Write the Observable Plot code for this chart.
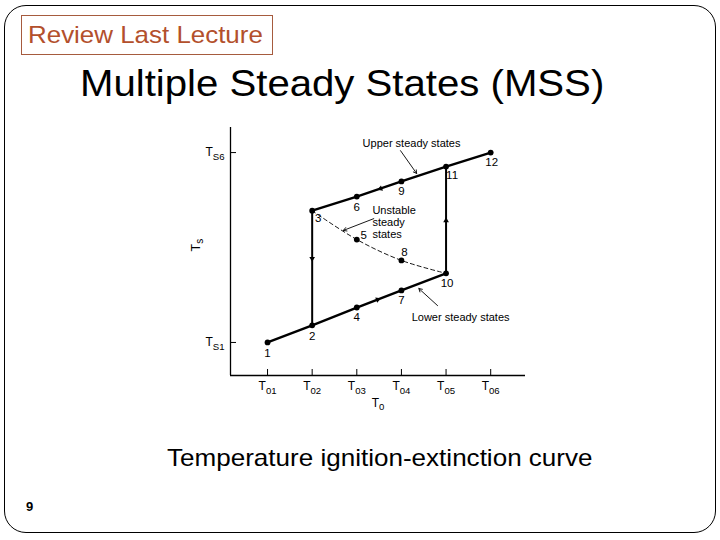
<!DOCTYPE html>
<html><head><meta charset="utf-8">
<script src="https://cdn.jsdelivr.net/npm/d3@7"></script>
<script src="https://cdn.jsdelivr.net/npm/@observablehq/plot@0.6"></script>
<style>
body{margin:0;background:#fff;}
#slide{position:relative;width:720px;height:540px;overflow:hidden;font-family:"Liberation Sans",Arial,sans-serif;background:#fff;}
#frame{position:absolute;left:4px;top:5px;width:712px;height:528px;box-sizing:border-box;border:1px solid #000;border-radius:22px;}
#review{position:absolute;left:21px;top:15px;width:252px;height:40px;box-sizing:border-box;border:1px solid #a65b3e;}
.t{position:absolute;white-space:nowrap;transform-origin:0 0;}
#chart{position:absolute;left:0;top:0;}
</style></head><body>
<div id="slide">
<div id="frame"></div>
<div id="review"></div>
<div class="t" style="left:28px;top:23px;font-size:24px;line-height:24px;color:#b3502c;transform:scaleX(1.08)">Review Last Lecture</div>
<div class="t" style="left:80px;top:66px;font-size:36px;line-height:36px;color:#000;transform:scaleX(1.115)">Multiple Steady States (MSS)</div>
<div id="chart"></div>
<div class="t" style="left:167px;top:446px;font-size:24px;line-height:24px;color:#000;transform:scaleX(1.085)">Temperature ignition-extinction curve</div>
<div class="t" style="left:26px;top:500px;font-size:13px;line-height:13px;font-weight:bold;color:#000">9</div>
</div>
<script>
// ---- data ----
const pointIds = ["1","2","3","4","5","6","7","8","9","10","11","12"];
const pointT0  = [1, 2, 2, 3, 3, 3, 4, 4, 4, 5, 5, 6];
const pointTs  = [1.00, 1.45, 4.47, 1.92, 3.71, 4.84, 2.37, 3.16, 5.24, 2.82, 5.63, 6.00];

const lowerBranch    = ["1","2","4","7","10"];
const upperBranch    = ["3","6","9","11","12"];
const unstableBranch = ["3","5","8","10"];
const ignitionJump   = ["10","11"];
const extinctionJump = ["3","2"];

const t0Domain = [0.17, 6.78];
const tsDomain = [0.13, 6.66];
const t0TickValues = [1, 2, 3, 4, 5, 6];
const t0TickLabels = ["T_01","T_02","T_03","T_04","T_05","T_06"];
const tsTickValues = [1, 6];
const tsTickLabels = ["T_S1","T_S6"];
const xTitle = "T_0";
const yTitle = "T_s";

const flowT0 = [3.47, 5.00, 3.53, 2.00];
const flowTs = [2.13, 4.21, 5.05, 3.21];

const noteTexts = ["Upper steady states", "Unstable\nsteady\nstates", "Lower steady states"];
const noteT0 = [3.13, 3.35, 4.23];
const noteTs = [6.24, 4.16, 1.66];
const pointerFromT0 = [3.98, 3.38, 4.81];
const pointerFromTs = [6.05, 4.26, 1.97];
const pointerToT0   = [4.34, 2.70, 4.39];
const pointerToTs   = [5.45, 3.95, 2.42];

// ---- build tables ----
const pts = pointIds.map((id, i) => ({id, t0: pointT0[i], ts: pointTs[i]}));
const byId = Object.fromEntries(pts.map(p => [p.id, p]));
const path = ids => ids.map(id => byId[id]);
const flowRot = [69, 0, 249, 180];
const flows = flowT0.map((x, i) => ({t0: x, ts: flowTs[i], rot: flowRot[i]}));
const notes = noteTexts.map((t, i) => ({text: t, t0: noteT0[i], ts: noteTs[i]}));
const pointers = pointerFromT0.map((x, i) => ({x1: x, y1: pointerFromTs[i], x2: pointerToT0[i], y2: pointerToTs[i]}));

const labelOffsets = {"1":[0,11],"2":[0,11],"3":[6,8],"4":[0,10],"5":[7,-4],"6":[0,11],
  "7":[0,10],"8":[3,-8],"9":[0,10],"10":[1,10],"11":[6,9],"12":[1,10]};

const thick = 2.4;
const svg = Plot.plot({
  width: 720, height: 540,
  marginLeft: 230, marginRight: 195, marginTop: 127, marginBottom: 165,
  x: {domain: t0Domain, axis: null},
  y: {domain: tsDomain, axis: null},
  style: {background: "transparent", fontFamily: "'Liberation Sans', Arial, sans-serif", color: "#000"},
  marks: [
    Plot.ruleX([t0Domain[0]], {y1: tsDomain[0], y2: tsDomain[1], stroke: "#000", strokeWidth: 1.3}),
    Plot.ruleY([tsDomain[0]], {x1: t0Domain[0], x2: t0Domain[1], stroke: "#000", strokeWidth: 1.3}),
    Plot.ruleX(t0TickValues, {y1: tsDomain[0], y2: tsDomain[0], insetTop: -6, stroke: "#000", strokeWidth: 1}),
    Plot.ruleY(tsTickValues, {x1: t0Domain[0], x2: t0Domain[0], insetRight: -6, stroke: "#000", strokeWidth: 1}),
    Plot.text(t0TickValues, {x: d => d, y: () => tsDomain[0], text: (d, i) => t0TickLabels[i], dy: 11, fontSize: 12, fill: "#000"}),
    Plot.text(tsTickValues, {x: () => t0Domain[0], y: d => d, text: (d, i) => tsTickLabels[i], dx: -6, textAnchor: "end", fontSize: 12, fill: "#000"}),
    Plot.text([xTitle], {frameAnchor: "bottom", text: d => d, dy: 31, fontSize: 12, fill: "#000"}),
    Plot.text([yTitle], {frameAnchor: "left", text: d => d, dx: -35, rotate: -90, fontSize: 12.5, fill: "#000"}),
    Plot.line(path(unstableBranch), {x: "t0", y: "ts", curve: "catmull-rom", stroke: "#000", strokeWidth: 0.9, strokeDasharray: "4,3"}),
    Plot.line(path(lowerBranch), {x: "t0", y: "ts", stroke: "#000", strokeWidth: thick}),
    Plot.line(path(upperBranch), {x: "t0", y: "ts", stroke: "#000", strokeWidth: thick}),
    Plot.line(path(ignitionJump), {x: "t0", y: "ts", stroke: "#000", strokeWidth: 2}),
    Plot.line(path(extinctionJump), {x: "t0", y: "ts", stroke: "#000", strokeWidth: 2}),
    Plot.dot(pts, {x: "t0", y: "ts", r: 2.9, fill: "#000"}),
    Plot.dot(flows, {x: "t0", y: "ts", symbol: "triangle", rotate: "rot", r: 2.1, fill: "#000"}),
    Plot.arrow(pointers, {x1: "x1", y1: "y1", x2: "x2", y2: "y2", headLength: 6, stroke: "#000", strokeWidth: 0.9}),
    Plot.text(notes, {x: "t0", y: "ts", text: "text", textAnchor: "start", fontSize: 11, lineHeight: 1.1, fill: "#000"}),
    ...pts.map(p => Plot.text([p], {x: "t0", y: "ts", text: "id", dx: labelOffsets[p.id][0], dy: labelOffsets[p.id][1], fontSize: 11.5, fill: "#000"}))
  ]
});

svg.querySelectorAll("text").forEach(t => {
  const s = t.textContent;
  if (t.children.length === 0 && s.includes("_")) {
    const [base, sub] = s.split("_");
    t.textContent = base;
    const ts = document.createElementNS("http://www.w3.org/2000/svg", "tspan");
    ts.setAttribute("font-size", "0.8em");
    ts.setAttribute("dy", "0.35em");
    ts.textContent = sub;
    t.appendChild(ts);
  }
});
document.getElementById("chart").appendChild(svg);
</script>
</body></html>
